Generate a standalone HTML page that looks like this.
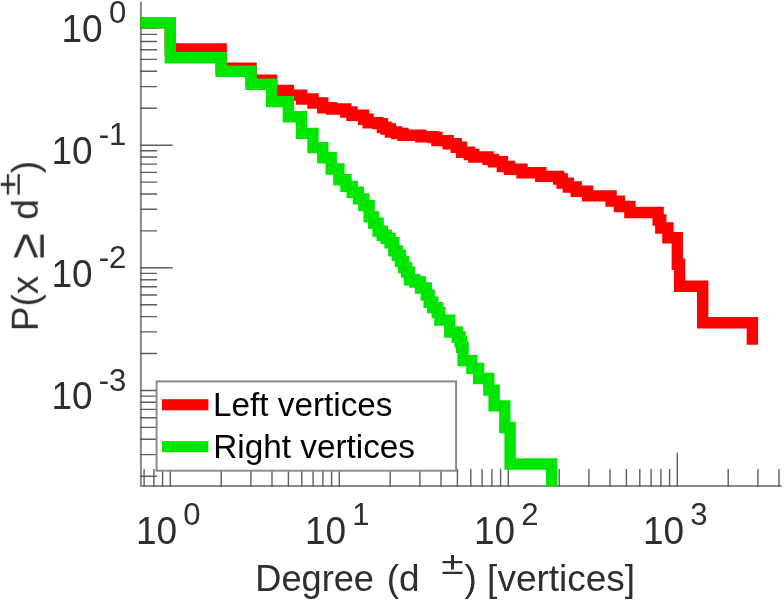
<!DOCTYPE html>
<html><head><meta charset="utf-8"><title>Degree distribution</title>
<style>html,body{margin:0;padding:0;background:#fff}body{width:784px;height:600px;overflow:hidden}</style></head>
<body>
<svg width="784" height="600" viewBox="0 0 784 600" style="display:block">
<rect width="784" height="600" fill="#fff"/>
<g style="filter:blur(0.5px)">
<path d="M140.9,1.5 V486.0 M139.9,486.0 H781.6" stroke="#8a8a8a" stroke-width="2.0" fill="none"/>
<path d="M144.1,487.0 v-17.9 M153.9,487.0 v-17.9 M162.6,487.0 v-17.9 M170.3,487.0 v-34.3 M221.2,487.0 v-17.9 M250.9,487.0 v-17.9 M272.0,487.0 v-17.9 M288.4,487.0 v-17.9 M301.8,487.0 v-17.9 M313.1,487.0 v-17.9 M322.9,487.0 v-17.9 M331.6,487.0 v-17.9 M339.3,487.0 v-34.3 M390.2,487.0 v-17.9 M419.9,487.0 v-17.9 M441.0,487.0 v-17.9 M457.4,487.0 v-17.9 M470.8,487.0 v-17.9 M482.1,487.0 v-17.9 M491.9,487.0 v-17.9 M500.6,487.0 v-17.9 M508.3,487.0 v-34.3 M559.2,487.0 v-17.9 M588.9,487.0 v-17.9 M610.0,487.0 v-17.9 M626.4,487.0 v-17.9 M639.8,487.0 v-17.9 M651.1,487.0 v-17.9 M660.9,487.0 v-17.9 M669.6,487.0 v-17.9 M677.3,487.0 v-34.3 M728.2,487.0 v-17.9 M757.9,487.0 v-17.9 M779.0,487.0 v-17.9 M139.9,22.5 h32.8 M139.9,28.1 h17.2 M139.9,34.4 h17.2 M139.9,41.5 h17.2 M139.9,49.7 h17.2 M139.9,59.4 h17.2 M139.9,71.3 h17.2 M139.9,86.6 h17.2 M139.9,108.2 h17.2 M139.9,145.2 h32.8 M139.9,150.8 h17.2 M139.9,157.0 h17.2 M139.9,164.1 h17.2 M139.9,172.4 h17.2 M139.9,182.1 h17.2 M139.9,194.0 h17.2 M139.9,209.3 h17.2 M139.9,230.9 h17.2 M139.9,267.8 h32.8 M139.9,273.4 h17.2 M139.9,279.7 h17.2 M139.9,286.8 h17.2 M139.9,295.0 h17.2 M139.9,304.7 h17.2 M139.9,316.6 h17.2 M139.9,331.9 h17.2 M139.9,353.5 h17.2 M139.9,390.5 h32.8 M139.9,396.1 h17.2 M139.9,402.3 h17.2 M139.9,409.4 h17.2 M139.9,417.7 h17.2 M139.9,427.4 h17.2 M139.9,439.3 h17.2 M139.9,454.6 h17.2 M139.9,476.2 h17.2" stroke="#5e5e5e" stroke-width="1.4" fill="none"/>
<path d="M140.3,22.8 H170.3 V49.05 H221.2 V68.3 H251.1 V80.2 H271.7 V90.35 H288.4 V95.15 H301.5 V98.95 H313 V103.05 H322.8 V107.7 H331.5 V109.05 H345.8 V112.05 H352 V115.25 H363.6 V119.25 H368.1 V122.75 H377.9 V123.65 H382.4 V127.25 H386 V129.05 H390.4 V132.05 H396.7 V133.55 H402.9 V135.25 H420.8 V136.75 H433.3 V137.45 H436.9 V140.65 H448.2 V143.8 H456.2 V147.3 H461.6 V152.2 H469.35 V154.55 H473.8 V157.05 H488.1 V159.4 H493.45 V161.75 H502.4 V166.55 H509.5 V169.25 H522 V172.75 H540.8 V176.35 H558.6 V179.05 H562.2 V183.15 H568.4 V187 H576.2 V191.2 H587.6 V195.85 H611.1 V201.15 H619.35 V206.55 H629.9 V212.45 H658.1 V219.95 H660.8 V227.95 H667.9 V237.75 H677.3 V264.3 H679.6 V286.25 H702.7 V322.8 H752.4 V344.8" stroke="#ff0000" stroke-width="11.4" fill="none" stroke-linejoin="miter" stroke-miterlimit="10"/>
<path d="M140.3,22.8 H170.3 V57.75 H221.2 V71.25 H251.1 V84.2 H271.7 V101.6 H288.4 V116.8 H301.5 V133.35 H313 V147.65 H322.8 V157.75 H331.2 V169.05 H338.9 V179.75 H346 V186.35 H352.25 V192.25 H358.45 V198.85 H363.85 V205.65 H369.15 V216.9 H373.65 V223.15 H378.1 V231.15 H382.25 V235.25 H386.15 V238.35 H390.05 V242.75 H393.85 V250.85 H397.25 V255.25 H400.45 V261.55 H403.65 V267.6 H406.55 V272.1 H409.45 V279.75 H414.8 V282.05 H420.5 V288.0 H426.4 V295.15 H429.15 V302.25 H432.75 V307.65 H437.25 V312.45 H439.85 V320.15 H449.75 V332.05 H457.25 V337.05 H460.1 V341.7 H461.7 V347.3 H463.1 V360.65 H471.85 V368.35 H478.65 V378.55 H488.85 V390.15 H494.15 V405.85 H504.85 V427.55 H510.15 V464 H551.75 V486.2" stroke="#00e600" stroke-width="11.4" fill="none" stroke-linejoin="miter" stroke-miterlimit="10"/>
<rect x="156.6" y="381.4" width="299.5" height="89.3" fill="#fff" stroke="#8a8a8a" stroke-width="2.0"/>
<rect x="162" y="399.2" width="46.4" height="11.1" fill="#ff0000"/>
<rect x="162" y="441.1" width="46.4" height="11.1" fill="#00e600"/>
<text x="213" y="415.9" font-family="Liberation Sans, Arial, Helvetica, sans-serif" font-size="33.3" fill="#000">Left vertices</text>
<text x="213.3" y="457.8" font-family="Liberation Sans, Arial, Helvetica, sans-serif" font-size="33.3" fill="#000">Right vertices</text>
<text transform="translate(135.9,543.9) scale(1,1.06)" font-family="Liberation Sans, Arial, Helvetica, sans-serif" font-size="37" fill="#2e2e2e">10</text>
<text transform="translate(183.3,524.8) scale(1.05,1.05)" font-family="Liberation Sans, Arial, Helvetica, sans-serif" font-size="29.6" fill="#2e2e2e">0</text>
<text transform="translate(304.9,543.9) scale(1,1.06)" font-family="Liberation Sans, Arial, Helvetica, sans-serif" font-size="37" fill="#2e2e2e">10</text>
<text transform="translate(352.3,524.8) scale(1.05,1.05)" font-family="Liberation Sans, Arial, Helvetica, sans-serif" font-size="29.6" fill="#2e2e2e">1</text>
<text transform="translate(473.9,543.9) scale(1,1.06)" font-family="Liberation Sans, Arial, Helvetica, sans-serif" font-size="37" fill="#2e2e2e">10</text>
<text transform="translate(521.3,524.8) scale(1.05,1.05)" font-family="Liberation Sans, Arial, Helvetica, sans-serif" font-size="29.6" fill="#2e2e2e">2</text>
<text transform="translate(642.9,543.9) scale(1,1.06)" font-family="Liberation Sans, Arial, Helvetica, sans-serif" font-size="37" fill="#2e2e2e">10</text>
<text transform="translate(690.3,524.8) scale(1.05,1.05)" font-family="Liberation Sans, Arial, Helvetica, sans-serif" font-size="29.6" fill="#2e2e2e">3</text>
<text transform="translate(126.4,23.2) scale(1.05,1.05)" font-family="Liberation Sans, Arial, Helvetica, sans-serif" font-size="29.6" fill="#2e2e2e" text-anchor="end">0</text>
<text transform="translate(102.6,42.3) scale(1,1.06)" font-family="Liberation Sans, Arial, Helvetica, sans-serif" font-size="37" fill="#2e2e2e" text-anchor="end">10</text>
<text transform="translate(126.4,145.2) scale(1.05,1.05)" font-family="Liberation Sans, Arial, Helvetica, sans-serif" font-size="29.6" fill="#2e2e2e" text-anchor="end">-1</text>
<text transform="translate(92.6,164.1) scale(1,1.06)" font-family="Liberation Sans, Arial, Helvetica, sans-serif" font-size="37" fill="#2e2e2e" text-anchor="end">10</text>
<text transform="translate(126.4,267.9) scale(1.05,1.05)" font-family="Liberation Sans, Arial, Helvetica, sans-serif" font-size="29.6" fill="#2e2e2e" text-anchor="end">-2</text>
<text transform="translate(92.6,286.7) scale(1,1.06)" font-family="Liberation Sans, Arial, Helvetica, sans-serif" font-size="37" fill="#2e2e2e" text-anchor="end">10</text>
<text transform="translate(126.4,390.6) scale(1.05,1.05)" font-family="Liberation Sans, Arial, Helvetica, sans-serif" font-size="29.6" fill="#2e2e2e" text-anchor="end">-3</text>
<text transform="translate(92.6,409.4) scale(1,1.06)" font-family="Liberation Sans, Arial, Helvetica, sans-serif" font-size="37" fill="#2e2e2e" text-anchor="end">10</text>
<text x="255.3" y="591" font-family="Liberation Sans, Arial, Helvetica, sans-serif" font-size="37" fill="#2e2e2e" textLength="118.6" lengthAdjust="spacingAndGlyphs">Degree</text>
<text x="386.7" y="591" font-family="Liberation Sans, Arial, Helvetica, sans-serif" font-size="37" fill="#2e2e2e">(d</text>
<text transform="translate(441.2,573.6) scale(1.141,0.882)" font-family="Liberation Sans, Arial, Helvetica, sans-serif" font-size="36" fill="#2e2e2e">±</text>
<text x="464.5" y="591" font-family="Liberation Sans, Arial, Helvetica, sans-serif" font-size="37" fill="#2e2e2e">) [vertices]</text>
<g transform="translate(37.8,328.2) rotate(-90)" font-family="Liberation Sans, Arial, Helvetica, sans-serif" font-size="37" fill="#2e2e2e">
<text x="-3" y="0">P(x</text>
<text transform="translate(69.2,6.2) scale(1.27,1.36)">≥</text>
<text x="108.5" y="0">d</text>
<text transform="translate(132.2,-17.8) scale(1.17,0.882)" font-size="36">±</text>
<text x="155" y="0">)</text>
</g>
</g>
</svg>
</body></html>
